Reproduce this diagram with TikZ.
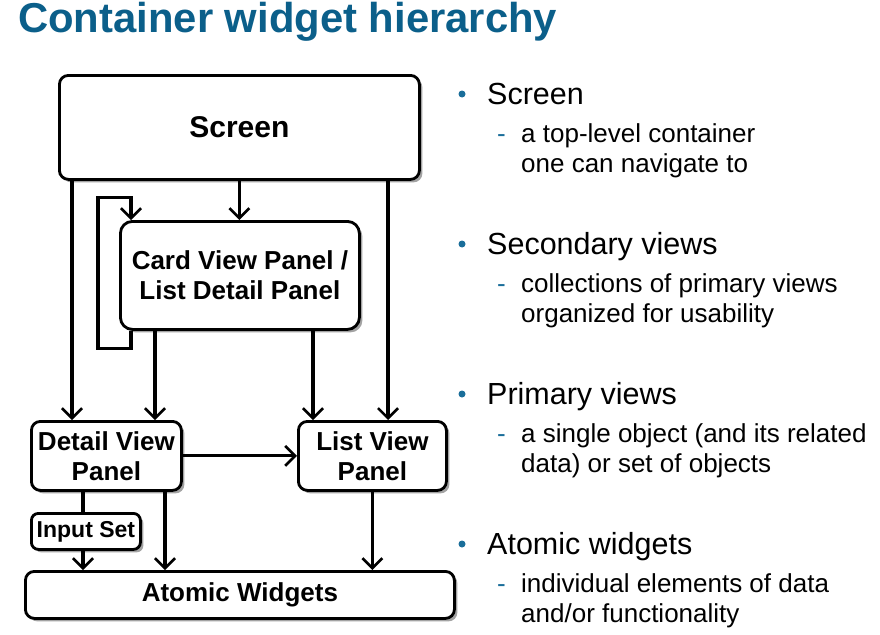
\documentclass[tikz,border=0pt]{standalone}
\usepackage{fontspec}
\setmainfont{Liberation Sans}
\usetikzlibrary{arrows.meta,shadows,calc}
\definecolor{titleblue}{HTML}{0B5F8A}
\definecolor{bulletblue}{HTML}{1A6E9A}
\tikzset{
  box/.style={draw=black, line width=2.8pt, rounded corners=9pt, fill=white, anchor=north west,
    inner sep=0pt, align=center, font=\fontsize{26}{30}\selectfont\bfseries,
    drop shadow={shadow xshift=3pt, shadow yshift=-3pt, fill=black!45, opacity=0.8}},
  arr/.style={line width=3.1pt, -{Straight Barb[length=10pt,width=20pt,line width=2.6pt]}},
  plain/.style={line width=3.1pt},
  head/.style={anchor=base west, inner sep=0pt, font=\fontsize{30.5}{34}\selectfont},
  sub/.style={anchor=base west, inner sep=0pt, font=\fontsize{26}{30}\selectfont},
  dot/.style={circle, fill=bulletblue, inner sep=0pt, minimum size=7pt},
  dashmark/.style={anchor=base west, inner sep=0pt, text=bulletblue, font=\fontsize{26}{30}\selectfont},
}
\begin{document}
\begin{tikzpicture}[x=1pt,y=-1pt]
\fill[white] (0,0) rectangle (880,634);
\useasboundingbox (0,0) rectangle (880,634);

\node[anchor=base west, inner sep=0pt, text=titleblue, font=\fontsize{41.8}{48}\selectfont\bfseries] (title) at (18,33) {Container widget hierarchy};

% boxes
\node[box, minimum width=360pt, minimum height=104pt, font=\fontsize{30}{34}\selectfont\bfseries] (screen) at (58,74) {Screen};
\node[box, minimum width=239pt, minimum height=108pt, rounded corners=12pt] (card) at (119,220) {Card View Panel /\\List Detail Panel};
\node[box, minimum width=150pt, minimum height=69pt] (detail) at (30,420) {Detail View\\Panel};
\node[box, minimum width=148pt, minimum height=69pt] (list) at (297,420) {List View\\Panel};
\node[box, minimum width=109pt, minimum height=36pt, rounded corners=7pt, font=\fontsize{23}{26}\selectfont\bfseries] (input) at (30,512) {Input Set};
\node[box, minimum width=429pt, minimum height=47pt] (atomic) at (24,570) {Atomic Widgets};

% connectors
\draw[arr] ([xshift=14pt]screen.south west) -- ([xshift=42pt]detail.north west);
\draw[arr] (screen.south) -- (screen.south |- card.north);
\draw[arr] ([xshift=330pt]screen.south west) -- ([xshift=91pt]list.north west);
\draw[arr] ([xshift=12pt]card.south west) -- ++(0,18) -- ++(-33,0) -- ++(0,-151) -- ++(33,0) -- ([xshift=12pt]card.north west);
\draw[arr] ([xshift=36pt]card.south west) -- ([xshift=125pt]detail.north west);
\draw[arr] ([xshift=194pt]card.south west) -- ([xshift=16pt]list.north west);
\draw[arr] (detail.east) -- (list.west);
\draw[plain] ([xshift=53pt]detail.south west) -- ([xshift=53pt]input.north west);
\draw[arr] ([xshift=53pt]input.south west) -- ([xshift=59pt]atomic.north west);
\draw[arr] ([xshift=135pt]detail.south west) -- ([xshift=141pt]atomic.north west);
\draw[arr] (list.south) -- (list.south |- atomic.north);

% right-hand text
\node[dot] (d1) at (462,94) {};
\node[head] (h1) at (487,104) {Screen};
\node[dashmark] (m1) at (497,142) {-};
\node[sub] (s1a) at (521,142) {a top-level container};
\node[sub] (s1b) at (521,172) {one can navigate to};

\node[dot] (d2) at (462,244) {};
\node[head] (h2) at (487,254) {Secondary views};
\node[dashmark] (m2) at (497,292) {-};
\node[sub] (s2a) at (521,292) {collections of primary views};
\node[sub] (s2b) at (521,322) {organized for usability};

\node[dot] (d3) at (462,394) {};
\node[head] (h3) at (487,404) {Primary views};
\node[dashmark] (m3) at (497,442) {-};
\node[sub] (s3a) at (521,442) {a single object (and its related};
\node[sub] (s3b) at (521,472) {data) or set of objects};

\node[dot] (d4) at (462,544) {};
\node[head] (h4) at (487,554) {Atomic widgets};
\node[dashmark] (m4) at (497,592) {-};
\node[sub] (s4a) at (521,592) {individual elements of data};
\node[sub] (s4b) at (521,622) {and/or functionality};
\end{tikzpicture}
\end{document}
